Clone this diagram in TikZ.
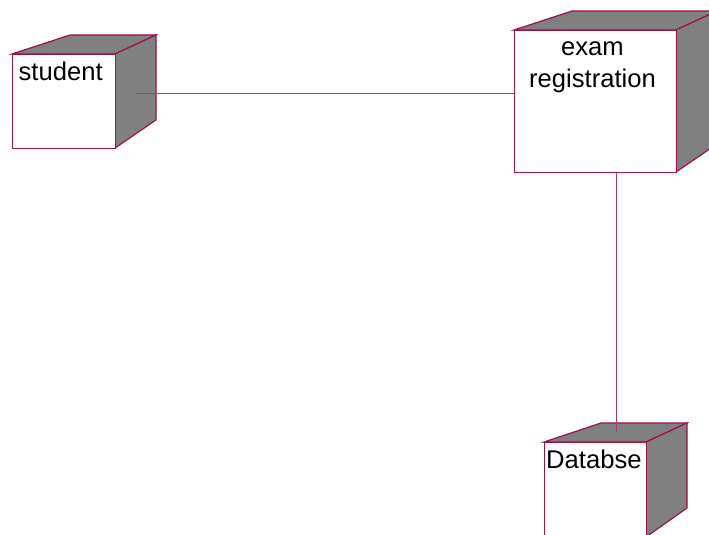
\documentclass[tikz,border=0pt]{standalone}
\usepackage{fontspec}
\setmainfont{Liberation Sans}
\definecolor{rosered}{RGB}{160,16,74}
\definecolor{linkred}{RGB}{176,60,110}
\definecolor{sidegray}{RGB}{128,128,128}
\begin{document}
\begin{tikzpicture}[x=1pt,y=-1pt,
  face/.style={draw=rosered,fill=white,line width=1.2pt,inner sep=0pt,anchor=north west},
  side/.style={draw=rosered,fill=sidegray,line width=1.2pt,line join=miter},
  link/.style={draw=linkred,line width=0.9pt},
  lbl/.style={inner sep=0pt,font=\fontsize{25.6}{32}\selectfont}]
\clip (0,0) rectangle (709,535);
\fill[white] (0,0) rectangle (709,535);
% student node
\draw[side] (12,54) -- (70,35) -- (156,35) -- (115,54) -- cycle;
\draw[side] (115,54) -- (156,35) -- (156,120) -- (115,148) -- cycle;
\node[face,minimum width=103pt,minimum height=94pt] (student) at (12,54) {};
\node[lbl,anchor=base west] (studentlbl) at (18.5,81) {student};
% exam registration node
\draw[side] (514,30) -- (572,11) -- (717,11) -- (676,30) -- cycle;
\draw[side] (676,30) -- (717,11) -- (717,144) -- (676,172) -- cycle;
\node[face,minimum width=162pt,minimum height=142pt] (exam) at (514,30) {};
\node[lbl,anchor=base,align=center] (examlbl) at (592.5,87) {exam\\registration};
% database node
\draw[side] (544,442) -- (601,423) -- (687,423) -- (646,442) -- cycle;
\draw[side] (646,442) -- (687,423) -- (687,508) -- (646,537) -- cycle;
\node[face,minimum width=102pt,minimum height=110pt] (db) at (544,442) {};
\node[lbl,anchor=base west] (dblbl) at (546,468) {Databse};
% connectors
\coordinate (sEnd) at (136,93);
\coordinate (dEnd) at (616,432);
\draw[link] (sEnd) -- (exam.west |- sEnd);
\draw[link] (exam.south -| dEnd) -- (dEnd);
\end{tikzpicture}
\end{document}
